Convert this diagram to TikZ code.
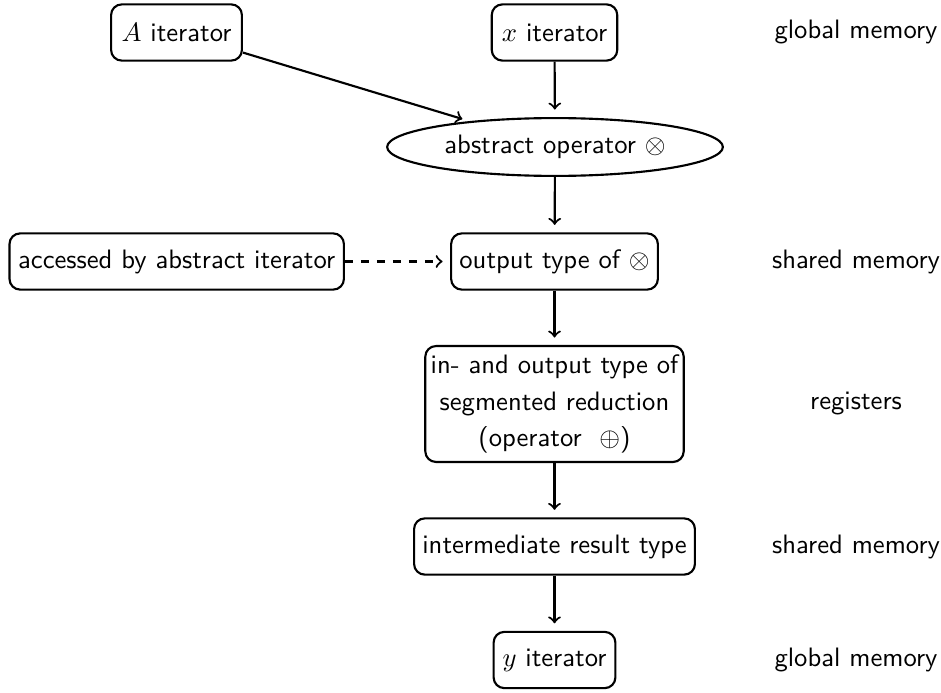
\documentclass[tikz,border=0pt]{standalone}
\usetikzlibrary{shapes.geometric}
\begin{document}
\begin{tikzpicture}[x=0.3753pt,y=-0.3753pt,
  box/.style={draw, thick, rounded corners=4pt, minimum height=21.1pt, inner xsep=2pt, inner ysep=2pt, font=\sffamily},
  oval/.style={draw, thick, ellipse, minimum width=126pt, minimum height=21.7pt, inner sep=0pt, font=\sffamily},
  lbl/.style={font=\sffamily, inner sep=0pt},
  flow/.style={thick, ->, shorten >=2.8pt},
]
\useasboundingbox (0,0) rectangle (941,692);
\node[box, minimum width=49.1pt] (A) at (176.5,32.5) {$A$ iterator};
\node[box, minimum width=47.1pt] (X) at (554.5,32.5) {$x$ iterator};
\node[lbl] (g1) at (856,32.5) {global memory};
\node[oval] (op) at (555,147) {abstract operator $\otimes$};
\node[box, minimum width=125.5pt] (acc) at (176.7,261.5) {accessed by abstract iterator};
\node[box, minimum width=77.6pt] (out) at (554.5,261.5) {output type of $\otimes$};
\node[lbl] (s1) at (856,261.5) {shared memory};
\node[box, minimum width=93.8pt, minimum height=43.5pt, align=center, font=\sffamily\fontsize{10}{13.8}\selectfont] (io) at (554.5,404) {in- and output type of\\segmented reduction\\(operator\ \ $\oplus$)};
\node[lbl] (r) at (856,404) {registers};
\node[box, minimum width=105.4pt] (inter) at (554.5,546.5) {intermediate result type};
\node[lbl] (s2) at (856,546.5) {shared memory};
\node[box, minimum width=45.7pt] (yit) at (554.5,660) {$y$ iterator};
\node[lbl] (g2) at (856,660) {global memory};
\draw[flow] (A) -- (op);
\draw[flow] (X) -- (op);
\draw[flow] (op) -- (out);
\draw[flow, dashed] (acc) -- (out);
\draw[flow] (out) -- (io);
\draw[flow] (io) -- (inter);
\draw[flow] (inter) -- (yit);
\end{tikzpicture}
\end{document}
